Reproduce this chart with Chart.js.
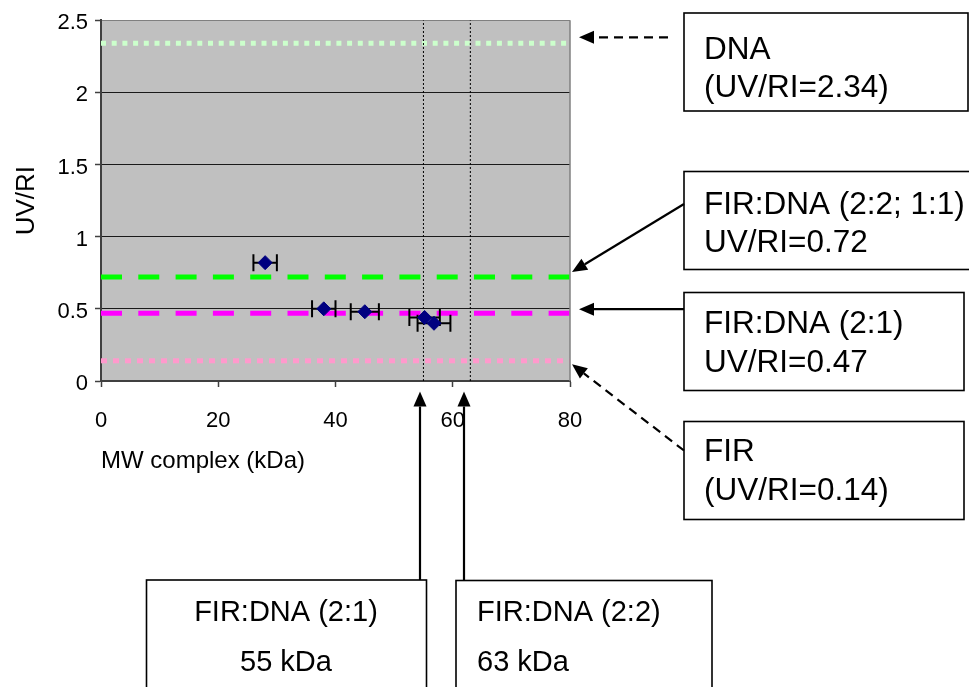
<!DOCTYPE html>
<html>
<head>
<meta charset="utf-8">
<script src="https://cdn.jsdelivr.net/npm/chart.js@4/dist/chart.umd.min.js"></script>
<style>
  html, body { margin: 0; padding: 0; background: #fff; }
  canvas { display: block; }
</style>
</head>
<body>
<canvas id="chart" width="969" height="687"></canvas>
<script>
// Measured complexes: molecular weight (kDa), its uncertainty, and UV/RI ratio
const complexMW    = [28, 38, 45, 55.2, 56.8];
const complexMWErr = [2.0, 2.0, 2.4, 2.6, 2.8];
const complexUVRI  = [0.82, 0.50, 0.48, 0.44, 0.40];

// Reference UV/RI levels
const refNames = ['DNA', 'FIR:DNA (2:2; 1:1)', 'FIR:DNA (2:1)', 'FIR'];
const refUVRI  = [2.34, 0.72, 0.47, 0.14];

// Calculated molecular weights of the complexes (kDa)
const calcNames = ['FIR:DNA (2:1)', 'FIR:DNA (2:2)'];
const calcMW    = [55, 63];

// Axis ticks
const xTickValues = [0, 20, 40, 60, 80];
const yTickValues = [0, 0.5, 1, 1.5, 2, 2.5];

const FONT = "'Liberation Sans', Arial, Helvetica, sans-serif";
const X_MIN = 0, X_MAX = 80, Y_MIN = 0, Y_MAX = 2.5;

// Line styles for the reference levels
const refColors = ['#CCFFCC', '#00FF00', '#FF00FF', '#FF99CC'];
const refDashes = [[5, 5.7], [21, 16.3], [21, 16.3], [6, 6]];

const datasets = [];
datasets.push({
  type: 'scatter',
  label: 'complexes',
  data: complexMW.map((x, i) => ({ x: x, y: complexUVRI[i] })),
  pointStyle: 'rectRot',
  pointRadius: 7,
  pointHoverRadius: 7,
  backgroundColor: '#000080',
  borderColor: '#000080',
  borderWidth: 1,
  order: 1
});
refUVRI.forEach((v, i) => {
  datasets.push({
    type: 'line',
    label: refNames[i],
    data: [{ x: X_MIN, y: v }, { x: X_MAX, y: v }],
    borderColor: refColors[i],
    borderWidth: 5,
    borderDash: refDashes[i],
    borderCapStyle: 'butt',
    pointRadius: 0,
    fill: false,
    order: 3
  });
});
calcMW.forEach((m, i) => {
  datasets.push({
    type: 'line',
    label: calcNames[i],
    data: [{ x: m, y: Y_MIN }, { x: m, y: Y_MAX }],
    borderColor: '#000',
    borderWidth: 1,
    borderDash: [2, 2],
    pointRadius: 0,
    fill: false,
    order: 2
  });
});

// Grey plot area and its right-hand frame
const plotFrame = {
  id: 'plotFrame',
  beforeDraw(chart) {
    const { ctx, chartArea: a } = chart;
    ctx.save();
    ctx.fillStyle = '#C0C0C0';
    ctx.fillRect(a.left, a.top, a.right - a.left, a.bottom - a.top);
    ctx.restore();
  },
  afterDatasetsDraw(chart) {
    const { ctx, chartArea: a } = chart;
    ctx.save();
    ctx.strokeStyle = '#808080';
    ctx.lineWidth = 1.5;
    ctx.beginPath();
    ctx.moveTo(a.right, a.top);
    ctx.lineTo(a.right, a.bottom);
    ctx.stroke();
    ctx.restore();
  }
};

// Horizontal error bars under the measured points
const errorBars = {
  id: 'errorBars',
  beforeDatasetDraw(chart, args) {
    if (args.index !== 0) return;
    const xs = chart.scales.x, ys = chart.scales.y, ctx = chart.ctx;
    ctx.save();
    ctx.strokeStyle = '#000';
    ctx.lineWidth = 2;
    complexMW.forEach((m, i) => {
      const y = ys.getPixelForValue(complexUVRI[i]);
      const x0 = xs.getPixelForValue(m - complexMWErr[i]);
      const x1 = xs.getPixelForValue(m + complexMWErr[i]);
      ctx.beginPath();
      ctx.moveTo(x0, y); ctx.lineTo(x1, y);
      ctx.moveTo(x0, y - 8.5); ctx.lineTo(x0, y + 8.5);
      ctx.moveTo(x1, y - 8.5); ctx.lineTo(x1, y + 8.5);
      ctx.stroke();
    });
    ctx.restore();
  }
};

function drawArrow(ctx, x1, y1, x2, y2, dash) {
  const ang = Math.atan2(y2 - y1, x2 - x1);
  const L = 15, W = 6.5;
  const bx = x2 - L * Math.cos(ang), by = y2 - L * Math.sin(ang);
  ctx.setLineDash(dash || []);
  ctx.beginPath();
  ctx.moveTo(x1, y1);
  ctx.lineTo(bx, by);
  ctx.stroke();
  ctx.setLineDash([]);
  ctx.beginPath();
  ctx.moveTo(x2, y2);
  ctx.lineTo(bx + W * Math.sin(ang), by - W * Math.cos(ang));
  ctx.lineTo(bx - W * Math.sin(ang), by + W * Math.cos(ang));
  ctx.closePath();
  ctx.fill();
}

function drawBox(ctx, left, top, right, bottom) {
  ctx.fillStyle = '#fff';
  ctx.fillRect(left, top, right - left, bottom - top);
  ctx.strokeRect(left, top, right - left, bottom - top);
  ctx.fillStyle = '#000';
}

// Callout boxes with arrows pointing at the reference levels
const callouts = {
  id: 'callouts',
  afterDraw(chart) {
    const ctx = chart.ctx, ys = chart.scales.y;
    const fmt = v => v.toFixed(2);
    ctx.save();
    ctx.strokeStyle = '#000';
    ctx.fillStyle = '#000';
    ctx.lineWidth = 1.6;
    ctx.textBaseline = 'alphabetic';

    // side boxes: [left, top, right, bottom] and text baselines
    const side = [
      { box: [684, 13, 968, 111], base: [59, 97], lines: [refNames[0], '(UV/RI=' + fmt(refUVRI[0]) + ')'] },
      { box: [684, 171.5, 975, 269.5], base: [214, 252], lines: [refNames[1], 'UV/RI=' + fmt(refUVRI[1])] },
      { box: [684, 292.5, 964, 390.5], base: [333, 371.5], lines: [refNames[2], 'UV/RI=' + fmt(refUVRI[2])] },
      { box: [684, 421.5, 964, 519.5], base: [461, 500], lines: [refNames[3], '(UV/RI=' + fmt(refUVRI[3]) + ')'] }
    ];
    ctx.font = '31.5px ' + FONT;
    ctx.textAlign = 'left';
    side.forEach(s => {
      drawBox(ctx, ...s.box);
      ctx.fillText(s.lines[0], 704, s.base[0]);
      ctx.fillText(s.lines[1], 704, s.base[1]);
    });

    ctx.lineWidth = 2.2;
    const yDNA = ys.getPixelForValue(refUVRI[0]) - 6;
    drawArrow(ctx, 668, yDNA, 579, yDNA, [9, 6]);
    drawArrow(ctx, 684, 204, 572, ys.getPixelForValue(refUVRI[1]) - 5);
    const y21 = ys.getPixelForValue(refUVRI[2]) - 4;
    drawArrow(ctx, 684, y21, 579, y21);
    drawArrow(ctx, 684, 450.5, 572, ys.getPixelForValue(refUVRI[3]) + 3.5, [9, 6]);

    // bottom boxes with molecular weights
    ctx.lineWidth = 1.6;
    drawBox(ctx, 146.5, 580, 426.5, 700);
    drawBox(ctx, 456, 580.5, 712, 700);
    ctx.font = '29px ' + FONT;
    ctx.textAlign = 'center';
    ctx.fillText(calcNames[0], 286, 621);
    ctx.fillText(calcMW[0] + ' kDa', 286, 671);
    ctx.textAlign = 'left';
    ctx.fillText(calcNames[1], 477, 621);
    ctx.fillText(calcMW[1] + ' kDa', 477, 671);

    ctx.lineWidth = 2.2;
    drawArrow(ctx, 420, 580, 420, 391.5);
    drawArrow(ctx, 464, 580, 464, 391.5);
    ctx.restore();
  }
};

new Chart(document.getElementById('chart'), {
  type: 'scatter',
  data: { datasets: datasets },
  plugins: [plotFrame, errorBars, callouts],
  options: {
    responsive: false,
    animation: false,
    devicePixelRatio: 1,
    layout: { padding: { top: 19, right: 399, bottom: 0, left: 0 } },
    plugins: { legend: { display: false }, tooltip: { enabled: false } },
    scales: {
      x: {
        type: 'linear',
        min: X_MIN, max: X_MAX,
        afterBuildTicks: s => { s.ticks = xTickValues.map(v => ({ value: v })); },
        afterFit: s => { s.height = 306; },
        ticks: { font: { family: FONT, size: 22 }, color: '#000', padding: 21, maxRotation: 0, autoSkip: false },
        grid: { drawOnChartArea: false, drawTicks: true, tickLength: 6, tickColor: '#404040', tickWidth: 1.5 },
        border: { display: true, color: '#404040', width: 2 },
        title: { display: true, text: 'MW complex (kDa)', align: 'start', color: '#000',
                 font: { family: FONT, size: 24 }, padding: { top: 0, bottom: 211.6 } }
      },
      y: {
        type: 'linear',
        min: Y_MIN, max: Y_MAX,
        afterBuildTicks: s => { s.ticks = yTickValues.map(v => ({ value: v })); },
        afterFit: s => { s.width = 101; },
        ticks: { font: { family: FONT, size: 22 }, color: '#000', padding: 7, labelOffset: 3, callback: v => String(v) },
        grid: {
          color: c => (c.tick && c.tick.value === Y_MAX) ? '#808080' : '#1a1a1a',
          lineWidth: 1,
          drawTicks: true, tickLength: 6, tickColor: '#404040', tickWidth: 1.5
        },
        border: { display: true, color: '#404040', width: 2 },
        title: { display: true, text: 'UV/RI', color: '#000',
                 font: { family: FONT, size: 26 }, padding: { top: 11.4, bottom: 0 } }
      }
    }
  }
});
</script>
</body>
</html>
